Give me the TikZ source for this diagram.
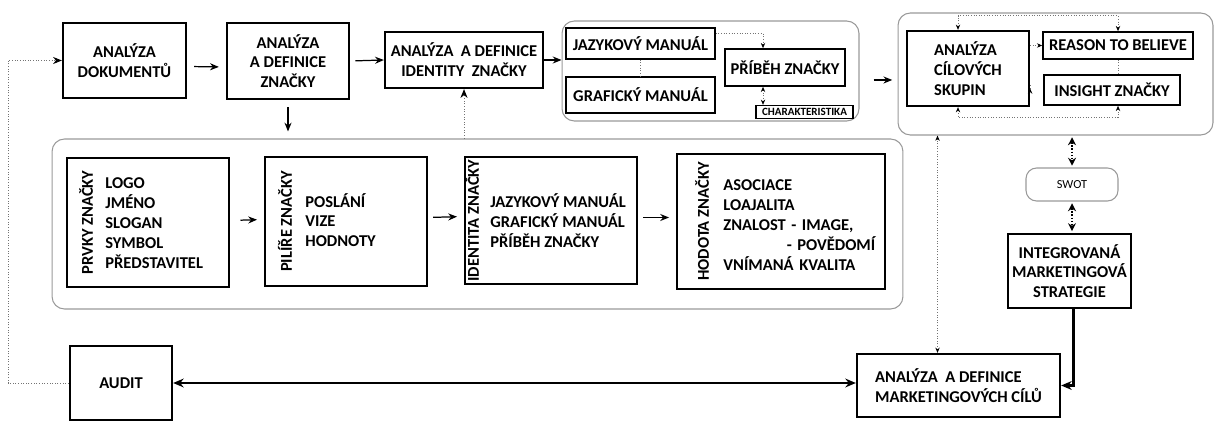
\documentclass[tikz,border=0pt]{standalone}
\usepackage{fontspec}
\setmainfont{Carlito}
\usetikzlibrary{arrows.meta, positioning, calc}

\begin{document}
\begin{tikzpicture}[
    x=0.02cm, y=-0.02cm,
    font=\bfseries\fontsize{9.4}{11.3}\selectfont,
    bbox/.style={
        rectangle, draw=black, fill=white,
        line width=1.3pt, inner sep=0pt, align=center,
    },
    tbox/.style={
        rectangle, draw=black, fill=white,
        line width=0.9pt, inner sep=0pt, align=center,
    },
    grp/.style={
        rectangle, rounded corners=7pt,
        draw=black!40, line width=0.6pt, inner sep=0pt,
    },
    rotlbl/.style={rotate=90, inner sep=0pt},
    listtxt/.style={align=left, inner sep=0pt, anchor=west},
    arr/.style={-{Stealth[length=5pt, width=4pt]}, line width=0.7pt},
    thkarr/.style={-{Stealth[length=6pt, width=5pt]}, line width=1.4pt},
    dotline/.style={densely dotted, black!55, line width=0.5pt},
    dotarr/.style={dotline, -{Stealth[length=3pt, width=2.5pt, black]}},
    dotdbl/.style={dotline, {Stealth[length=3pt, width=2.5pt, black]}-{Stealth[length=3pt, width=2.5pt, black]}},
    swarr/.style={densely dotted, line width=0.8pt, {Stealth[length=4.5pt, width=4.5pt]}-{Stealth[length=4.5pt, width=4.5pt]}},
]
\useasboundingbox (0,0) rectangle (1216,428);

% === TOP ROW ===
\node[bbox, minimum width=2.46cm, minimum height=1.5cm] (dok) at (124.5,60.5) {ANALÝZA\\DOKUMENTŮ};
\node[bbox, minimum width=2.44cm, minimum height=1.52cm] (znacky) at (288,61) {ANALÝZA\\A DEFINICE\\ZNAČKY};
\node[bbox, minimum width=3.16cm, minimum height=1.12cm] (identity) at (464,60) {ANALÝZA~ A DEFINICE\\IDENTITY~ ZNAČKY};

% manuals group
\node[grp, minimum width=5.94cm, minimum height=2.0cm] (grp1) at (710.5,71) {};
\node[tbox, minimum width=2.98cm, minimum height=0.62cm] (jazyk) at (640.5,43.5) {JAZYKOVÝ MANUÁL};
\node[tbox, minimum width=2.98cm, minimum height=0.72cm] (graf) at (640.5,95) {GRAFICKÝ MANUÁL};
\node[tbox, minimum width=2.4cm, minimum height=0.74cm] (pribeh) at (785,67.5) {PŘÍBĚH ZNAČKY};
\node[tbox, line width=0.7pt, minimum width=1.94cm, minimum height=0.26cm,
      font=\bfseries\fontsize{6.3}{7}\selectfont] (charakt) at (804.5,112) {CHARAKTERISTIKA};

% target groups
\node[grp, minimum width=6.3cm, minimum height=2.44cm] (grp2) at (1055.5,74) {};
\node[bbox, minimum width=2.44cm, minimum height=1.5cm, align=left] (cilove) at (968,68.5) {ANALÝZA\\CÍLOVÝCH\\SKUPIN};
\node[tbox, minimum width=3.0cm, minimum height=0.54cm] (reason) at (1118,45.5) {REASON TO BELIEVE};
\node[tbox, minimum width=2.72cm, minimum height=0.6cm] (insight) at (1112,90) {INSIGHT ZNAČKY};

% === BRAND ELEMENTS (lower group) ===
\node[grp, minimum width=17.02cm, minimum height=3.4cm] (grp3) at (477.5,224) {};
\node[tbox, line width=1.1pt, minimum width=3.24cm, minimum height=2.58cm] (prvky) at (148,222.5) {};
\node[tbox, line width=1.1pt, minimum width=3.24cm, minimum height=2.58cm] (pilire) at (346,221.5) {};
\node[tbox, line width=1.1pt, minimum width=3.44cm, minimum height=2.54cm] (identita) at (551,220.5) {};
\node[tbox, line width=1.1pt, minimum width=4.16cm, minimum height=2.7cm] (hodnota) at (781,221.5) {};

\node[rotlbl] (prvkyT) at ($(prvky.west)+(20,0)$) {PRVKY ZNAČKY};
\node[listtxt] (prvkyL) at (105,223) {LOGO\\JMÉNO\\SLOGAN\\SYMBOL\\PŘEDSTAVITEL};
\node[rotlbl] (pilireT) at ($(pilire.west)+(21,0)$) {PILÍŘE ZNAČKY};
\node[listtxt] (pilireL) at (305,220) {POSLÁNÍ\\VIZE\\HODNOTY};
\node[rotlbl] (identitaT) at ($(identita.west)+(8,0)$) {IDENTITA ZNAČKY};
\node[listtxt] (identitaL) at (490,220.5) {JAZYKOVÝ MANUÁL\\GRAFICKÝ MANUÁL\\PŘÍBĚH ZNAČKY};
\node[rotlbl] (hodnotaT) at ($(hodnota.west)+(26,0)$) {HODOTA ZNAČKY};
\node[listtxt, text width=3.04cm] (hodnotaL) at (723,225) {ASOCIACE\\LOAJALITA\\ZNALOST - IMAGE,\\\hspace*{\fill}- POVĚDOMÍ\\VNÍMANÁ KVALITA};

% === RIGHT COLUMN ===
\node[grp, rounded corners=6pt, minimum width=1.84cm, minimum height=0.66cm,
      font=\fontsize{7}{8}\selectfont] (swot) at (1072,184.5) {SWOT};
\node[bbox, minimum width=2.46cm, minimum height=1.48cm] (strategie) at (1069.5,271) {INTEGROVANÁ\\MARKETINGOVÁ\\STRATEGIE};

% === BOTTOM ROW ===
\node[bbox, minimum width=2.04cm, minimum height=1.48cm] (audit) at (121,383) {AUDIT};
\node[bbox, minimum width=4.06cm, minimum height=1.26cm, align=left] (cile) at (958.5,385.5) {ANALÝZA~ A DEFINICE\\MARKETINGOVÝCH CÍLŮ};

% Arrows, top row
\draw[arr, shorten <=4pt, shorten >=4pt] ($(dok.east)+(0,6)$) -- ($(znacky.west)+(0,6)$);
\draw[arr, shorten <=3pt] (znacky.east) -- (identity.west);
\draw[arr] (identity.east) -- (identity.east -| grp1.west);
\coordinate (g12) at ($(grp1.east)+(0,9)$);
\draw[arr, shorten <=8pt, shorten >=3pt] (g12) -- (g12 -| grp2.west);
\draw[arr, shorten <=4pt, shorten >=4pt] (znacky.south) -- (znacky.south |- grp3.north);
\draw[dotline, -{Stealth[length=5pt, width=4pt, black]}] (grp3.north -| identity.south) -- (identity.south);

% feedback from audit
\coordinate (loop) at (8,383);
\draw[dotarr, -{Stealth[length=5pt, width=4pt, black]}] (audit.west) -- (audit.west -| loop) |- (dok.west);

% Arrows, lower group
\draw[arr, shorten <=6pt, shorten >=4pt] ($(prvky.east)+(0,-2)$) -- ($(pilire.west)+(0,-2)$);
\draw[arr, shorten <=3pt, shorten >=4pt] ($(pilire.east)+(0,-4)$) -- ($(identita.west)+(0,-4)$);
\draw[arr, shorten <=3pt, shorten >=4pt] ($(identita.east)+(0,-3)$) -- ($(hodnota.west)+(0,-4)$);

% manuals, dotted links
\coordinate (pn) at ($(pribeh.north)+(-22,0)$);
\coordinate (ps) at ($(pribeh.south)+(-22,0)$);
\draw[dotarr] ($(jazyk.east)+(0,-10)$) -| (pn);
\draw[dotline] ($(graf.east)+(0,3)$) -- ($(graf.east)+(0,3)$ -| ps);
\draw[dotdbl] (ps) -- (ps |- charakt.north);
\draw[dotline] (jazyk.south) -- (graf.north);

% target groups, dotted links
\draw[dotarr] (cilove.east |- reason.west) -- (reason.west);
\draw[dotarr] ($(cilove.east)+(0,20)$) -- ($(cilove.east)+(0,20)$ -| insight.west);
\coordinate (ctop) at ($(cilove.north)+(-10,0)$);
\coordinate (cbot) at ($(cilove.south)+(-10,0)$);
\draw[dotdbl] (ctop) -- ++(0,-14) -| (reason.north);
\draw[dotdbl] (cbot) -- ++(0,10) -| ($(insight.south)+(6,0)$);
\draw[dotline] (reason.south) -- (reason.south |- insight.north);

% right column
\draw[swarr, shorten <=1pt, shorten >=1pt] (grp2.south -| swot.north) -- (swot.north);
\draw[swarr, shorten <=1pt, shorten >=1pt] (swot.south) -- (swot.south |- strategie.north);
\draw[thkarr] ($(strategie.south)+(4,0)$) |- (cile.east);
\coordinate (gc) at ($(cile.north)+(-21,0)$);
\draw[dotdbl] (gc) -- (gc |- grp2.south);

% audit <-> goals
\draw[thkarr, {Stealth[length=6pt, width=5pt]}-{Stealth[length=6pt, width=5pt]}] (audit.east) -- (audit.east -| cile.west);

\end{tikzpicture}
\end{document}
